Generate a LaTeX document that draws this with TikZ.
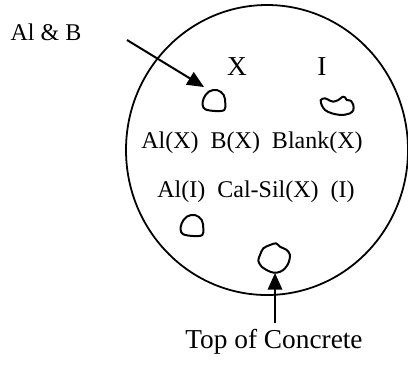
\documentclass[tikz,border=0pt]{standalone}
\usepackage{fontspec}
\setmainfont{Liberation Serif}
\usetikzlibrary{arrows.meta}
\begin{document}
\begin{tikzpicture}[x=0.45pt,y=-0.45pt,>={Triangle[length=7.5pt,width=6.5pt]},
  lbl/.style={font=\fontsize{10.8}{13}\selectfont,inner sep=0pt},
  big/.style={font=\fontsize{12.3}{15}\selectfont,inner sep=0pt},
  blob/.style={line width=0.9pt,line join=round}]
\useasboundingbox (0,0) rectangle (408,369);
\draw[line width=0.8pt] (267,150) ellipse [x radius=141,y radius=145];
% labels
\node[lbl] (alb) at (46,32) {Al \& B};
\node[big] (colx) at (237,67) {X};
\node[big] (coli) at (322,67) {I};
\node[lbl] (rowa) at (252,143) {Al(X)\ \ B(X)\ \ Blank(X)};
\node[lbl] (rowb) at (256,192) {Al(I)\ \ Cal-Sil(X)\ \ (I)};
\node[big] (top) at (274,342) {Top of Concrete};
% samples
\draw[blob] plot[smooth cycle,tension=0.6] coordinates {(203.7,98.3) (208.7,91.7) (217,90) (223.7,95) (225.3,103.3) (224.3,110) (215.3,111) (205.3,109.3) (202.7,105)};
\draw[blob] plot[smooth cycle,tension=0.5] coordinates {(320.7,100) (325,98.3) (330,100.7) (333.3,101.7) (338.3,100) (342.7,96.7) (345,97.3) (346.7,100) (350.7,100.7) (353.3,105) (353.3,110) (350,113.3) (341.7,115) (331.7,113.3) (325,110) (321.7,105)};
\draw[blob] plot[smooth cycle,tension=0.6] coordinates {(181.7,223.3) (186.7,216.7) (195,215) (201.7,220) (203.3,228.3) (202.3,235) (193.3,236) (183.3,234.3) (180.7,230)};
\draw[blob] plot[smooth cycle,tension=0.5] coordinates {(260,255) (263.3,248.3) (270,245) (276,243.3) (280,246.7) (286.7,250) (290,255) (288.3,263.3) (283.3,270) (276.7,272.7) (270,271.7) (261.7,266.7) (258.3,260.7)};
% arrows
\coordinate (ptr) at (127,40);
\coordinate (smp) at (204,87);
\coordinate (base) at (275,323);
\coordinate (conc) at (275,273);
\draw[->,line width=0.9pt] (ptr) -- (smp);
\draw[->,line width=0.9pt] (base) -- (conc);
\end{tikzpicture}
\end{document}
